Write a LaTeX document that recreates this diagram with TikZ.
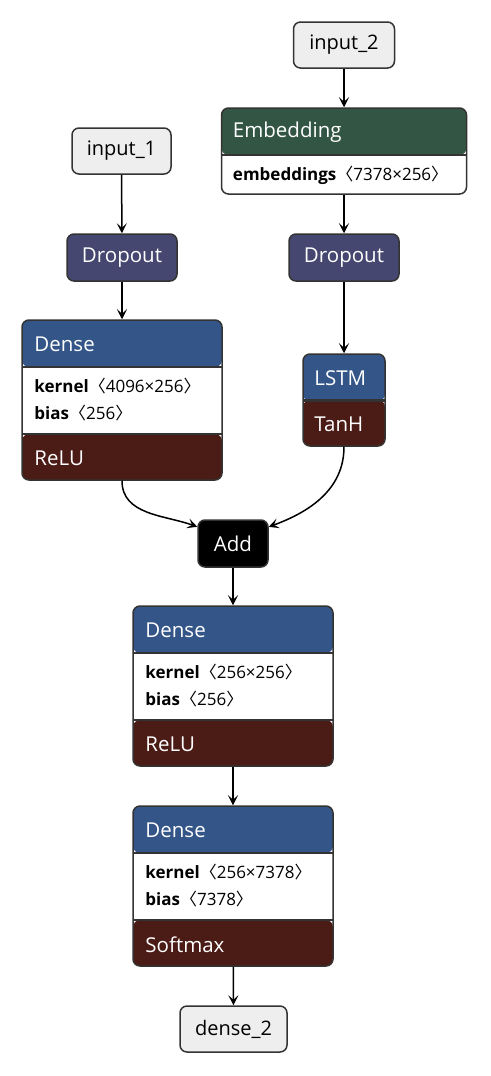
\documentclass[tikz,border=0pt]{standalone}
\usepackage{fontspec}
\setmainfont{Open Sans}
\newfontfamily\bracketfont{Noto Sans CJK SC}
\usetikzlibrary{arrows.meta}

\definecolor{layerblue}{RGB}{51,85,136}
\definecolor{actred}{RGB}{75,27,22}
\definecolor{transgreen}{RGB}{51,85,68}
\definecolor{dropviolet}{RGB}{69,71,112}
\definecolor{inputgray}{RGB}{238,238,238}
\definecolor{edgegray}{RGB}{51,51,51}

\newcommand{\shape}[1]{{\bracketfont\char"3008}#1{\bracketfont\char"3009}}

\tikzset{
  box/.style={draw=edgegray, line width=1.5pt, rounded corners=7pt, inner sep=0pt},
  inputbox/.style={box, fill=inputgray, font=\fontsize{20}{24}\selectfont},
  opbox/.style={box, fill=#1, text=white, font=\fontsize{20.5}{24}\selectfont},
  sep/.style={draw=edgegray, line width=1.5pt},
  headonly/.style={box, fill=white, path picture={
    \fill[#1] (path picture bounding box.north west) rectangle ([yshift=-47pt]path picture bounding box.north east);
    \draw[sep] ([yshift=-47pt]path picture bounding box.north west) -- ([yshift=-47pt]path picture bounding box.north east);
  }},
  headact/.style 2 args={box, fill=white, path picture={
    \fill[#1] (path picture bounding box.north west) rectangle ([yshift=-47pt]path picture bounding box.north east);
    \fill[#2] (path picture bounding box.south west) rectangle ([yshift=46pt]path picture bounding box.south east);
    \draw[sep] ([yshift=-47pt]path picture bounding box.north west) -- ([yshift=-47pt]path picture bounding box.north east);
    \draw[sep] ([yshift=46pt]path picture bounding box.south west) -- ([yshift=46pt]path picture bounding box.south east);
  }},
  title/.style={anchor=west, inner sep=0pt, text=white, font=\fontsize{20.5}{24}\selectfont},
  attr/.style={anchor=west, inner sep=0pt, font=\fontsize{17}{20}\selectfont},
  edge/.style={draw=black, line width=1.5pt, -{Stealth[length=10pt, width=10pt, inset=4.5pt]}}
}

\begin{document}
\begin{tikzpicture}[x=1pt, y=-1pt]
  \useasboundingbox (0,0) rectangle (490,1076);

  % right branch
  \node[inputbox, minimum width=101pt, minimum height=46pt] (input2) at (344,45) {input\_2};
  \node[headonly=transgreen, minimum width=245pt, minimum height=86pt] (embed) at (344,151) {};
  \node[title] at ([xshift=12pt, yshift=-25pt]embed.north west) {Embedding};
  \node[attr] at ([xshift=12pt, yshift=-68pt]embed.north west) {\textbf{embeddings}\shape{7378×256}};
  \node[opbox=dropviolet, minimum width=110pt, minimum height=47pt] (drop2) at (344,257.5) {Dropout};
  \node[headact={layerblue}{actred}, minimum width=82pt, minimum height=92pt] (lstm) at (344,400) {};
  \node[title] at ([xshift=12pt, yshift=-25pt]lstm.north west) {LSTM};
  \node[title] at ([xshift=12pt, yshift=22pt]lstm.south west) {TanH};

  % left branch
  \node[inputbox, minimum width=99pt, minimum height=46pt] (input1) at (121.5,151) {input\_1};
  \node[opbox=dropviolet, minimum width=110pt, minimum height=47pt] (drop1) at (122,257.5) {Dropout};
  \node[headact={layerblue}{actred}, minimum width=200pt, minimum height=160pt] (dense1) at (122,400) {};
  \node[title] at ([xshift=13pt, yshift=-25pt]dense1.north west) {Dense};
  \node[attr] at ([xshift=13pt, yshift=-67pt]dense1.north west) {\textbf{kernel}\shape{4096×256}};
  \node[attr] at ([xshift=13pt, yshift=-94pt]dense1.north west) {\textbf{bias}\shape{256}};
  \node[title] at ([xshift=13pt, yshift=22pt]dense1.south west) {ReLU};

  % merge and head
  \node[opbox=black, minimum width=70pt, minimum height=47pt] (add) at (233,543.5) {Add};
  \node[headact={layerblue}{actred}, minimum width=200pt, minimum height=160pt] (dense2) at (233,686) {};
  \node[title] at ([xshift=13pt, yshift=-25pt]dense2.north west) {Dense};
  \node[attr] at ([xshift=13pt, yshift=-67pt]dense2.north west) {\textbf{kernel}\shape{256×256}};
  \node[attr] at ([xshift=13pt, yshift=-94pt]dense2.north west) {\textbf{bias}\shape{256}};
  \node[title] at ([xshift=13pt, yshift=22pt]dense2.south west) {ReLU};
  \node[headact={layerblue}{actred}, minimum width=200pt, minimum height=160pt] (dense3) at (233,886) {};
  \node[title] at ([xshift=13pt, yshift=-25pt]dense3.north west) {Dense};
  \node[attr] at ([xshift=13pt, yshift=-67pt]dense3.north west) {\textbf{kernel}\shape{256×7378}};
  \node[attr] at ([xshift=13pt, yshift=-94pt]dense3.north west) {\textbf{bias}\shape{7378}};
  \node[title] at ([xshift=13pt, yshift=22pt]dense3.south west) {Softmax};
  \node[inputbox, minimum width=107pt, minimum height=46pt] (output) at (233.5,1029) {dense\_2};

  % connectors
  \draw[edge] (input2) -- (embed);
  \draw[edge] (embed) -- (drop2);
  \draw[edge] (drop2) -- (lstm);
  \draw[edge] (input1) -- (drop1);
  \draw[edge] (drop1) -- (dense1);
  \draw[edge] (dense1.south) to[out=-90, in=160] (add.155);
  \draw[edge] (lstm.south) to[out=-90, in=20] (add.25);
  \draw[edge] (add) -- (dense2);
  \draw[edge] (dense2) -- (dense3);
  \draw[edge] (dense3) -- (output);
\end{tikzpicture}
\end{document}
